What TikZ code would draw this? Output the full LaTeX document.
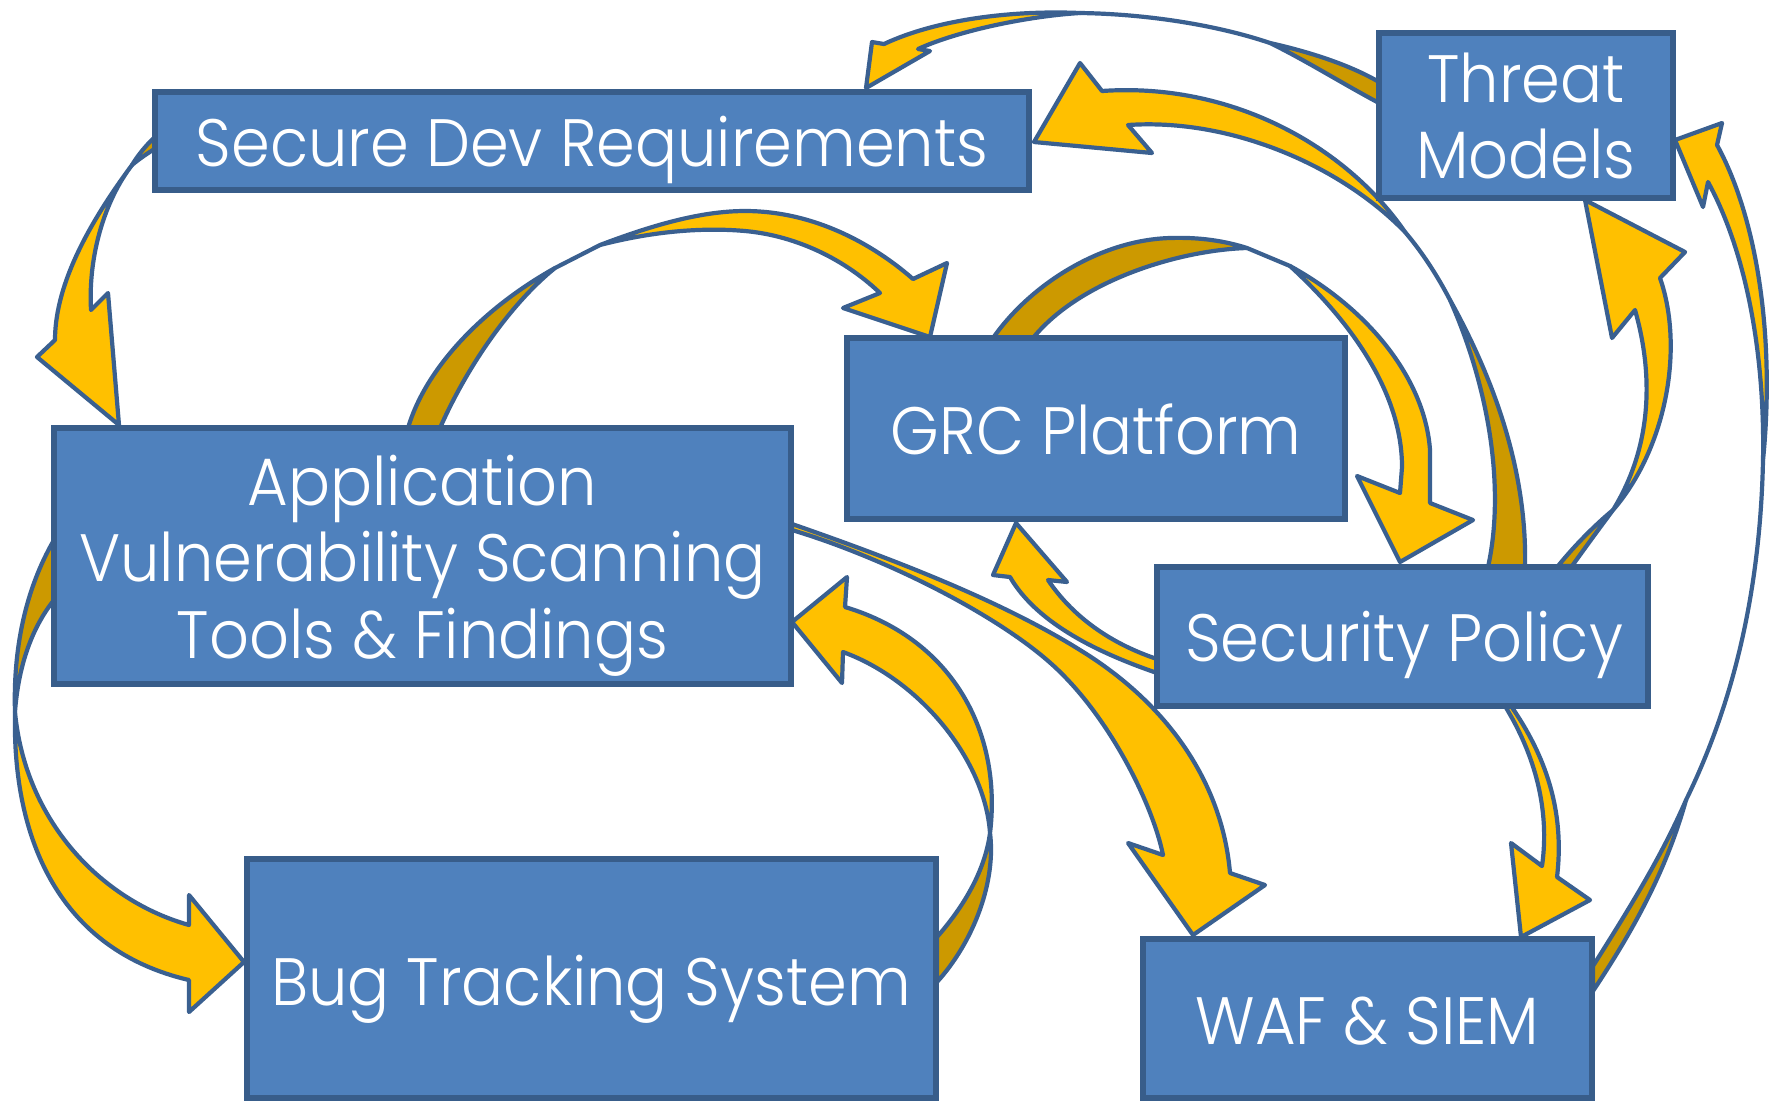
\documentclass[tikz,border=0pt]{standalone}
\usepackage{fontspec}
\setmainfont{Poppins}[UprightFont=* Light, FakeStretch=0.93]
\definecolor{boxfill}{HTML}{4F81BD}
\definecolor{boxline}{HTML}{385D8A}
\definecolor{arrowfront}{HTML}{FFC000}
\definecolor{arrowback}{HTML}{CC9900}
\definecolor{arrowline}{HTML}{3A6090}
\newcommand\labelfont{\fontsize{33.5pt}{40pt}\selectfont}
\tikzset{
  box/.style={draw=boxline, fill=boxfill, line width=2.6pt, inner sep=0pt},
  lbl/.style={text=white, anchor=base, inner sep=0pt, font=\labelfont},
  front/.style={fill=arrowfront, draw=arrowline, line width=2.1pt, line join=round},
  back/.style={fill=arrowback, draw=arrowline, line width=2.1pt, line join=round},
  twist/.style={draw=arrowline, line width=2.1pt, line cap=round},
}
\begin{document}
\begin{tikzpicture}[x=0.5pt, y=-0.5pt]
\useasboundingbox (0,0) rectangle (1775,1100);
\fill[white] (0,0) rectangle (1775,1100);

% --- curved block arrows (drawn below the boxes) ---
% Secure Dev Requirements -> Application Vulnerability
\draw[back] (156,136) -- (156,148) .. controls (148,153) and (139,159) .. (132,165)
  .. controls (138,155) and (147,144) .. (156,136) -- cycle;
\draw[front] (132,165) .. controls (95,215) and (55,280) .. (55,340)
  -- (37,357) -- (119,425) -- (108,293) -- (91,310)
  .. controls (88,255) and (105,200) .. (132,165) -- cycle;

% Application Vulnerability -> GRC Platform
\draw[back] (408,428) .. controls (425,370) and (480,310) .. (555,268)
  .. controls (515,300) and (470,360) .. (440,428) -- cycle;
\draw[twist] (555,268) -- (600,245);
\draw[front] (600,245) .. controls (650,226) and (700,211) .. (745,211)
  .. controls (820,211) and (880,250) .. (913,279)
  -- (947,263) -- (930,337) -- (843,308) -- (880,293)
  .. controls (840,255) and (790,235) .. (745,231)
  .. controls (700,227) and (650,232) .. (600,245) -- cycle;

% GRC Platform -> Security Policy
\draw[back] (993,338) .. controls (1030,285) and (1100,240) .. (1170,238)
  .. controls (1200,237) and (1225,241) .. (1247,248)
  .. controls (1180,250) and (1080,280) .. (1033,338) -- cycle;
\draw[twist] (1247,248) -- (1290,266);
\draw[front] (1290,266) .. controls (1370,310) and (1425,380) .. (1430,450) -- (1430,503)
  -- (1473,520) -- (1400,562) -- (1357,476) -- (1400,493) -- (1402,467)
  .. controls (1402,400) and (1360,330) .. (1290,266) -- cycle;

% Security Policy -> Secure Dev Requirements
\draw[front] (1405,232) .. controls (1345,145) and (1230,82) .. (1102,91)
  -- (1080,63) -- (1034,142) -- (1152,153) -- (1128,125)
  .. controls (1230,118) and (1340,165) .. (1405,232) -- cycle;
\draw[twist] (1405,232) .. controls (1422,252) and (1437,275) .. (1450,300);
\draw[back] (1450,300) .. controls (1500,390) and (1527,480) .. (1525,567) -- (1488,567)
  .. controls (1505,490) and (1490,390) .. (1450,300) -- cycle;

% Threat Models -> Secure Dev Requirements
\draw[front] (1080,13) .. controls (1010,10) and (935,20) .. (884,44)
  -- (872,42) -- (866,88) -- (930,51) -- (918,49)
  .. controls (960,30) and (1030,16) .. (1080,13) -- cycle;
\draw[twist] (1080,13) .. controls (1150,14) and (1220,26) .. (1270,43);
\draw[back] (1270,43) .. controls (1310,52) and (1350,65) .. (1379,82) -- (1379,103)
  .. controls (1345,85) and (1305,60) .. (1270,43) -- cycle;

% Security Policy -> Threat Models
\draw[front] (1613,510) .. controls (1665,450) and (1685,350) .. (1660,278)
  -- (1685,252) -- (1585,200) -- (1612,338) -- (1635,310)
  .. controls (1655,380) and (1650,450) .. (1613,510) -- cycle;
\draw[back] (1613,510) .. controls (1598,530) and (1585,548) .. (1572,566) -- (1558,566)
  .. controls (1575,545) and (1595,525) .. (1613,510) -- cycle;

% WAF & SIEM -> Threat Models
\draw[front] (1763,460) .. controls (1775,340) and (1758,220) .. (1717,145)
  -- (1722,123) -- (1675,140) -- (1703,207) -- (1708,182)
  .. controls (1745,250) and (1765,350) .. (1763,460) -- cycle;
\draw[twist] (1763,460) .. controls (1760,600) and (1730,710) .. (1686,800);
\draw[back] (1686,800) .. controls (1660,860) and (1625,915) .. (1593,966) -- (1593,991)
  .. controls (1630,935) and (1665,875) .. (1686,800) -- cycle;

% Security Policy -> WAF & SIEM
\draw[front] (1505,706) -- (1511,706) .. controls (1545,755) and (1565,810) .. (1557,877)
  -- (1590,900) -- (1521,937) -- (1511,843) -- (1542,866)
  .. controls (1550,810) and (1535,755) .. (1505,706) -- cycle;

% Security Policy -> GRC Platform
\draw[front] (1157,673) .. controls (1090,650) and (1035,620) .. (1010,577)
  -- (993,575) -- (1016,523) -- (1067,582) -- (1048,580)
  .. controls (1075,620) and (1115,645) .. (1157,659) -- cycle;

% Application Vulnerability -> WAF & SIEM
\draw[front] (792,524) .. controls (890,558) and (1000,600) .. (1080,650)
  .. controls (1165,702) and (1222,780) .. (1230,873)
  -- (1265,885) -- (1193,935) -- (1128,843) -- (1163,855)
  .. controls (1153,805) and (1108,712) .. (1047,660)
  .. controls (990,611) and (882,557) .. (792,530) -- cycle;

% Bug Tracking System -> Application Vulnerability
\draw[front] (990,833) .. controls (1002,735) and (955,640) .. (845,607)
  -- (847,577) -- (792,622) -- (842,683) -- (843,652)
  .. controls (920,680) and (985,760) .. (990,833) -- cycle;
\draw[back] (990,833) .. controls (996,880) and (975,940) .. (937,982) -- (937,937)
  .. controls (965,905) and (985,870) .. (990,833) -- cycle;

% Application Vulnerability -> Bug Tracking System
\draw[back] (54,540) .. controls (25,590) and (13,650) .. (15,712)
  .. controls (18,670) and (30,630) .. (54,600) -- cycle;
\draw[front] (15,712) .. controls (12,840) and (60,950) .. (189,980)
  -- (189,1012) -- (244,962) -- (189,895) -- (189,925)
  .. controls (100,900) and (25,820) .. (15,712) -- cycle;

% --- boxes ---
\node[box, minimum width=437pt, minimum height=49pt] (sdr) at (592,141) {};
\node[box, minimum width=147pt, minimum height=82.5pt] (tm) at (1526,115.5) {};
\node[box, minimum width=249pt, minimum height=90.5pt] (grc) at (1096,428.5) {};
\node[box, minimum width=368.5pt, minimum height=128pt] (av) at (422.5,556) {};
\node[box, minimum width=245.5pt, minimum height=69.5pt] (sp) at (1402.5,636.5) {};
\node[box, minimum width=344.5pt, minimum height=119.5pt] (bug) at (591.5,978.5) {};
\node[box, minimum width=224.5pt, minimum height=79.5pt] (waf) at (1367.5,1018.5) {};

% --- labels (placed on their baselines) ---
\node[lbl] (sdr-l) at (592,166) {Secure Dev Requirements};
\node[lbl] (tm-l1) at (1526,102) {Threat};
\node[lbl] (tm-l2) at (1526,178) {Models};
\node[lbl] (grc-l) at (1096,454) {GRC Platform};
\node[lbl] (av-l1) at (422.5,505) {Application};
\node[lbl] (av-l2) at (422.5,581) {Vulnerability Scanning};
\node[lbl] (av-l3) at (422.5,658) {Tools \& Findings};
\node[lbl] (sp-l) at (1404,661) {Security Policy};
\node[lbl] (bug-l) at (591,1005) {Bug Tracking System};
\node[lbl] (waf-l) at (1367.5,1044) {WAF \& SIEM};
\end{tikzpicture}
\end{document}
